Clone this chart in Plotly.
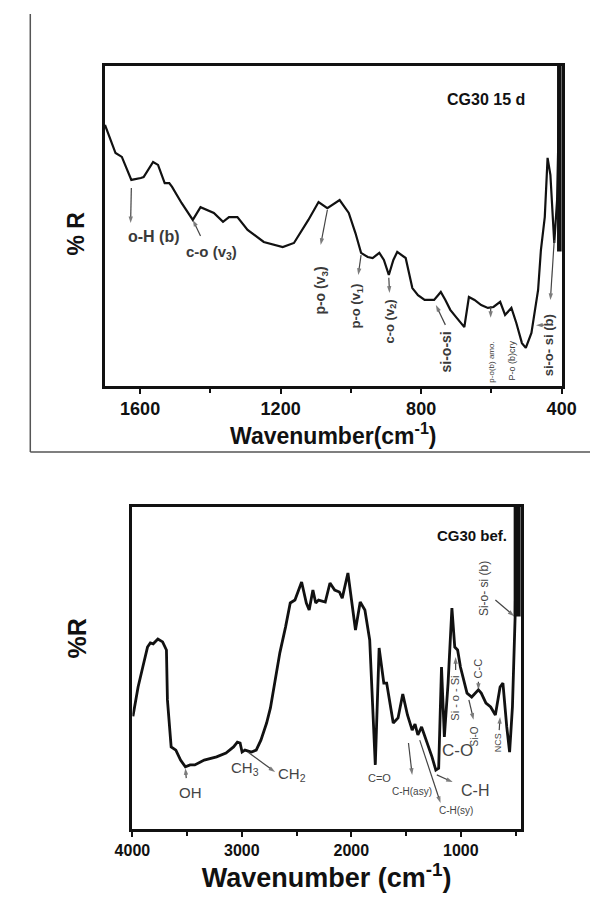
import plotly.graph_objects as go

# ---------------- data ----------------
top_wn = [1700,1670,1652,1625,1598,1590,1563,1549,1530,1517,1509,1482,1450,1428,1390,1364,1347,1323,1294,1248,
          1194,1162,1121,1092,1067,1032,1006,987,971,952,938,919,906,892,879,868,844,825,809,790,
          763,744,731,717,701,677,664,648,629,610,594,575,561,543,529,513,502,486,467,459,
          448,440,432,421,413,405]
top_r = [81.6,72.8,71.6,64.4,65.0,65.3,70.0,69.1,63.4,63.4,62.2,57.2,51.9,55.9,54.1,51.3,52.8,52.8,48.8,45.0,
         43.4,44.7,51.9,57.5,55.6,58.1,54.1,47.8,41.6,40.3,40.0,41.6,39.4,34.7,39.4,41.9,40.0,30.6,28.4,26.9,
         26.9,29.4,26.9,23.8,21.6,18.4,27.8,26.9,25.3,24.4,24.7,26.3,22.2,24.4,19.7,13.4,11.9,16.6,30.0,42.5,
         52.8,71.3,66.0,44.7,58.0,100]
top_edge_wn = [406, 406]
top_edge_r = [42, 100]

bot_wn = [3995,3948,3905,3862,3836,3810,3767,3724,3689,3680,3646,3603,3560,3516,3473,3430,3344,3231,3145,3076,
          3041,3016,2998,2972,2912,2869,2826,2774,2739,2713,2653,2601,2558,2515,2454,2411,2385,2351,2325,2299,
          2238,2195,2152,2109,2083,2031,1997,1962,1919,1876,1832,1807,1781,1746,1703,1677,1617,1573,1530,1487,
          1444,1418,1392,1358,1314,1263,1228,1202,1176,1150,1116,1081,1055,1029,1003,943,900,839,813,770,
          727,684,641,615,580,554,528,503,490]
bot_r = [35.0,44.1,50.3,56.5,57.8,57.5,59.0,58.1,55.6,40.1,25.5,24.5,21.4,19.3,19.9,19.9,21.4,22.4,23.6,25.5,
         27.0,26.7,23.9,24.5,23.9,24.5,27.6,32.9,37.6,43.2,54.7,62.7,70.2,71.1,76.7,70.2,68.0,74.2,70.2,71.1,
         70.5,76.4,74.2,73.6,71.7,79.5,71.1,61.8,70.5,68.0,58.7,40.1,19.9,56.2,45.3,45.3,32.9,34.5,41.9,35.4,
         30.7,32.6,29.2,31.7,27.6,22.4,18.3,18.9,50.3,28.6,45.3,68.6,56.5,55.6,50.3,42.2,41.0,43.2,42.2,39.1,
         37.9,35.4,44.1,45.3,31.7,23.9,37.9,66.5,100]
bot_edge_wn = [485, 485]
bot_edge_r = [66, 100]

top_ticks = [1600, 1200, 800, 400]
top_minor = [1400, 1000, 600]
bot_ticks = [4000, 3000, 2000, 1000]
bot_minor = [3500, 2500, 1500, 500]

top_title = "CG30 15 d"
bot_title = "CG30 bef."

# band labels: text, x, y, angle, size
top_lab_text = ["o-H (b)", "c-o (v<sub>3</sub>)", "p-o (v<sub>3</sub>)", "p-o (v<sub>1</sub>)",
                "c-o (v<sub>2</sub>)", "si-o-si", "p-o(b) amo.", "P-o (b)cry", "si-o- si (b)"]
top_lab_x = [1560, 1396, 1086, 984, 890, 728, 602, 540, 438]
top_lab_y = [46.6, 41.6, 29.7, 25.0, 20.0, 10.6, 7.5, 8.1, 12.8]
top_lab_ang = [0, 0, -90, -90, -90, -90, -90, -90, -90]
top_lab_size = [16, 15, 14, 13, 13, 14, 8, 9, 13]
top_lab_bold = [True, True, True, True, True, True, False, False, True]
# arrows: head x, head y, tail x, tail y
top_arr_hx = [1627, 1450, 1086, 979, 890, 758, 602, 432, 473]
top_arr_hy = [50.9, 51.9, 44.1, 34.7, 29.1, 25.3, 21.3, 26.9, 19.0]
top_arr_tx = [1625, 1428, 1067, 971, 892, 731, 602, 421, 451]
top_arr_ty = [61.9, 46.9, 55.0, 40.9, 33.8, 19.1, 25.0, 45.6, 19.0]

bot_lab_text = ["OH", "CH<sub>3</sub>", "CH<sub>2</sub>", "C=O", "C-H(asy)", "C-H(sy)", "C-H", "C-O",
                "Si - o - Si", "C-C", "Si-O", "NCS", "Si-o- si (b)"]
bot_lab_x = [3465, 2972, 2541, 1746, 1444, 1047, 874, 1029, 1055, 839, 874, 658, 788]
bot_lab_y = [11.2, 18.9, 16.8, 15.8, 11.5, 5.9, 12.1, 24.5, 40.7, 50.0, 28.6, 26.7, 74.8]
bot_lab_ang = [0, 0, 0, 0, 0, 0, 0, 0, -90, -90, -90, -90, -90]
bot_lab_size = [15, 15, 15, 11, 10, 10, 16, 17, 11, 11, 10, 9, 12]
bot_arr_hx = [3516, 2696, 1444, 1185, 1073, 1047, 839, 883, 641, 511]
bot_arr_hy = [18.9, 17.7, 16.8, 8.1, 14.6, 53.4, 43.2, 33.9, 34.8, 66.1]
bot_arr_tx = [3508, 2946, 1478, 1375, 1219, 1047, 839, 926, 649, 684]
bot_arr_ty = [15.8, 23.9, 26.7, 27.6, 16.8, 49.4, 45.7, 40.1, 30.7, 71.1]

FONT = "Liberation Sans, Arial, sans-serif"
W, H = 605, 899


def arrow_path(tx, ty, hx, hy):
    xs, ys, sizes = [], [], []
    for a, b, c, d in zip(tx, ty, hx, hy):
        xs += [a, c, None]
        ys += [b, d, None]
        sizes += [0, 7, 0]
    return xs, ys, sizes


fig = go.Figure()
fig.add_trace(go.Scatter(x=top_wn, y=top_r, xaxis="x", yaxis="y", mode="lines",
                         line=dict(color="#111111", width=2.2), hoverinfo="skip"))
fig.add_trace(go.Scatter(x=top_edge_wn, y=top_edge_r, xaxis="x", yaxis="y", mode="lines",
                         line=dict(color="#111111", width=5), hoverinfo="skip"))
fig.add_trace(go.Scatter(x=bot_wn, y=bot_r, xaxis="x2", yaxis="y2", mode="lines",
                         line=dict(color="#111111", width=2.8), hoverinfo="skip"))
fig.add_trace(go.Scatter(x=bot_edge_wn, y=bot_edge_r, xaxis="x2", yaxis="y2", mode="lines",
                         line=dict(color="#111111", width=7), hoverinfo="skip"))

for (tx, ty, hx, hy, xa, ya) in [(top_arr_tx, top_arr_ty, top_arr_hx, top_arr_hy, "x", "y"),
                                  (bot_arr_tx, bot_arr_ty, bot_arr_hx, bot_arr_hy, "x2", "y2")]:
    ax_, ay_, sz = arrow_path(tx, ty, hx, hy)
    fig.add_trace(go.Scatter(x=ax_, y=ay_, xaxis=xa, yaxis=ya, mode="lines+markers",
                             line=dict(color="#444444", width=1.2),
                             marker=dict(symbol="arrow", size=sz, color="#444444", angleref="previous",
                                         line=dict(width=0)),
                             connectgaps=False, hoverinfo="skip"))


def px_x(p):
    return p / W


def px_y(p):
    return 1 - p / H


axis_common = dict(showline=True, mirror=True, linecolor="#111111", showgrid=False, zeroline=False)

fig.update_layout(
    width=W, height=H, margin=dict(l=0, r=0, t=0, b=0),
    paper_bgcolor="white", plot_bgcolor="white", showlegend=False,
    font=dict(family=FONT, color="#111111", size=12),
    xaxis=dict(domain=[px_x(92), px_x(575)], range=[1700, 400], anchor="y", linewidth=2.5,
               ticks="outside", ticklen=5, tickwidth=2, tickcolor="#111111",
               tickvals=top_ticks, ticktext=[str(v) for v in top_ticks],
               tickfont=dict(size=18, family=FONT, weight="bold"),
               minor=dict(tickvals=top_minor, ticks="outside", ticklen=4, tickwidth=2, tickcolor="#111111"),
               title=dict(text="Wavenumber(cm<sup>-1</sup>)",
                          font=dict(size=23, family=FONT, weight="bold"), standoff=0),
               **axis_common),
    yaxis=dict(domain=[px_y(386), px_y(66)], range=[0, 100], anchor="x", linewidth=2.5,
               showticklabels=False, ticks="", **axis_common),
    xaxis2=dict(domain=[px_x(121), px_x(532)], range=[4000, 450], anchor="y2", linewidth=2.8,
                ticks="outside", ticklen=5, tickwidth=2, tickcolor="#111111",
                tickvals=bot_ticks, ticktext=[str(v) for v in bot_ticks],
                tickfont=dict(size=16, family=FONT, weight="bold"),
                minor=dict(tickvals=bot_minor, ticks="outside", ticklen=4, tickwidth=2, tickcolor="#111111"),
                title=dict(text="Wavenumber (cm<sup>-1</sup>)",
                           font=dict(size=27, family=FONT, weight="bold"), standoff=8),
                **axis_common),
    yaxis2=dict(domain=[px_y(829), px_y(507)], range=[0, 100], anchor="x2", linewidth=2.8,
                showticklabels=False, ticks="", **axis_common),
)

# page rules (table borders)
fig.add_shape(type="line", xref="paper", yref="paper", x0=px_x(13), x1=px_x(13), y0=px_y(14), y1=px_y(452),
              line=dict(color="#555555", width=1.5))
fig.add_shape(type="line", xref="paper", yref="paper", x0=px_x(13), x1=1, y0=px_y(452), y1=px_y(452),
              line=dict(color="#555555", width=1.5))

ann = []
# y-axis titles
ann.append(dict(x=px_x(45), y=px_y(210), xref="paper", yref="paper", text="% R", showarrow=False,
                textangle=-90, font=dict(size=23, color="#111111", weight="bold")))
ann.append(dict(x=px_x(46), y=px_y(660), xref="paper", yref="paper", text="%R", showarrow=False,
                textangle=-90, font=dict(size=25, color="#111111", weight="bold")))
ann.append(dict(x=615, y=89.4, xref="x", yref="y", text=top_title, showarrow=False,
                font=dict(size=16, color="#111111", weight="bold")))
ann.append(dict(x=900, y=91.3, xref="x2", yref="y2", text=bot_title, showarrow=False,
                font=dict(size=15, color="#111111", weight="bold")))
for t, x, y, a, s, b in zip(top_lab_text, top_lab_x, top_lab_y, top_lab_ang, top_lab_size, top_lab_bold):
    ann.append(dict(x=x, y=y, xref="x", yref="y", text=t, showarrow=False, textangle=a,
                    font=dict(size=s, color="#3a3a3a", weight="bold" if b else "normal")))
for t, x, y, a, s in zip(bot_lab_text, bot_lab_x, bot_lab_y, bot_lab_ang, bot_lab_size):
    ann.append(dict(x=x, y=y, xref="x2", yref="y2", text=t, showarrow=False, textangle=a,
                    font=dict(size=s, color="#444444")))
fig.update_layout(annotations=ann)

fig.write_html("out.html", config={"displayModeBar": False},
               post_script="document.body.style.margin='0px';")
